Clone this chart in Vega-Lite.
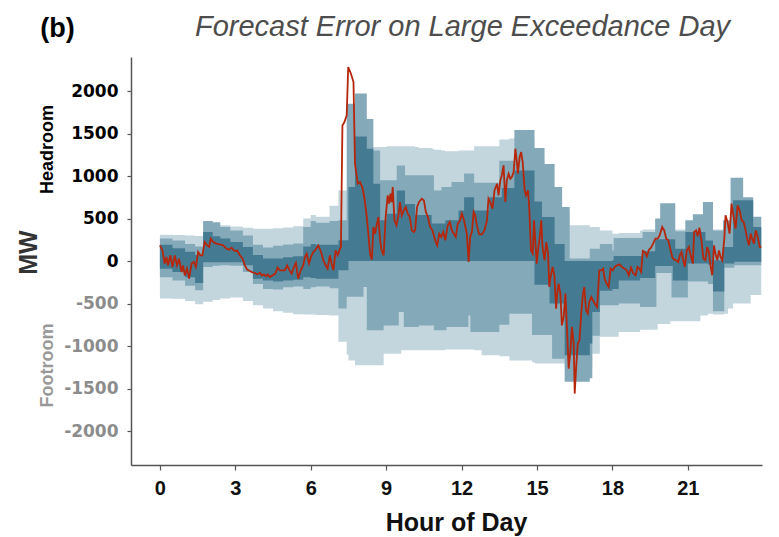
{
"$schema": "https://vega.github.io/schema/vega-lite/v6.json",
"width": 631, "height": 408,
"autosize": {"type": "none"},
"padding": {"left": 131, "top": 57, "right": 17, "bottom": 72},
"background": "white",
"config": {"view": {"stroke": null}, "axis": {"grid": false}},
"datasets": {
"bands": [
{"h":0,"u3":310,"u2":265,"u1":190,"l1":-90,"l2":-190,"l3":-440},
{"h":0.5,"u3":305,"u2":240,"u1":150,"l1":-130,"l2":-230,"l3":-445},
{"h":1.0,"u3":300,"u2":200,"u1":110,"l1":-190,"l2":-290,"l3":-470},
{"h":1.4,"u3":295,"u2":170,"u1":70,"l1":-260,"l2":-345,"l3":-510},
{"h":1.72,"u3":430,"u2":470,"u1":340,"l1":-15,"l2":-70,"l3":-480},
{"h":2.1,"u3":425,"u2":455,"u1":290,"l1":-15,"l2":-55,"l3":-460},
{"h":2.4,"u3":420,"u2":400,"u1":265,"l1":-15,"l2":-50,"l3":-440},
{"h":2.8,"u3":405,"u2":360,"u1":225,"l1":-15,"l2":-55,"l3":-430},
{"h":3.3,"u3":390,"u2":300,"u1":165,"l1":-50,"l2":-130,"l3":-470},
{"h":3.7,"u3":380,"u2":190,"u1":70,"l1":-210,"l2":-270,"l3":-520},
{"h":4.1,"u3":380,"u2":160,"u1":30,"l1":-230,"l2":-330,"l3":-560},
{"h":4.5,"u3":385,"u2":180,"u1":30,"l1":-240,"l2":-335,"l3":-590},
{"h":4.9,"u3":395,"u2":195,"u1":45,"l1":-230,"l2":-310,"l3":-610},
{"h":5.3,"u3":410,"u2":205,"u1":55,"l1":-220,"l2":-300,"l3":-625},
{"h":5.7,"u3":500,"u2":400,"u1":170,"l1":-190,"l2":-330,"l3":-630},
{"h":6.0,"u3":540,"u2":470,"u1":200,"l1":-200,"l2":-310,"l3":-630},
{"h":6.2,"u3":520,"u2":450,"u1":190,"l1":-210,"l2":-300,"l3":-635},
{"h":6.75,"u3":650,"u2":470,"u1":190,"l1":-210,"l2":-320,"l3":-640},
{"h":7.1,"u3":830,"u2":480,"u1":243,"l1":-110,"l2":-560,"l3":-950},
{"h":7.43,"u3":830,"u2":1850,"u1":243,"l1":-110,"l2":-420,"l3":-1100},
{"h":7.5,"u3":830,"u2":1850,"u1":870,"l1":0,"l2":-420,"l3":-1170},
{"h":7.76,"u3":900,"u2":1970,"u1":1466,"l1":0,"l2":-420,"l3":-1227},
{"h":8.1,"u3":900,"u2":1970,"u1":1466,"l1":0,"l2":-305,"l3":-1227},
{"h":8.23,"u3":1340,"u2":1670,"u1":1320,"l1":0,"l2":-815,"l3":-1227},
{"h":8.49,"u3":1340,"u2":1300,"u1":910,"l1":0,"l2":-815,"l3":-1227},
{"h":8.76,"u3":1340,"u2":950,"u1":478,"l1":0,"l2":-815,"l3":-1227},
{"h":8.9,"u3":1340,"u2":950,"u1":478,"l1":0,"l2":-760,"l3":-1090},
{"h":9.02,"u3":1350,"u2":950,"u1":557,"l1":0,"l2":-760,"l3":-1090},
{"h":9.42,"u3":1350,"u2":1125,"u1":830,"l1":0,"l2":-760,"l3":-1090},
{"h":9.5,"u3":1350,"u2":1125,"u1":830,"l1":0,"l2":-600,"l3":-1090},
{"h":9.6,"u3":1350,"u2":1125,"u1":830,"l1":0,"l2":-600,"l3":-1050},
{"h":9.7,"u3":1350,"u2":1125,"u1":830,"l1":0,"l2":-776,"l3":-1050},
{"h":9.75,"u3":1350,"u2":1010,"u1":670,"l1":0,"l2":-776,"l3":-1050},
{"h":10.15,"u3":1340,"u2":1010,"u1":540,"l1":0,"l2":-776,"l3":-1050},
{"h":10.3,"u3":1330,"u2":1010,"u1":540,"l1":0,"l2":-760,"l3":-1050},
{"h":10.81,"u3":1320,"u2":1010,"u1":440,"l1":0,"l2":-760,"l3":-1050},
{"h":10.9,"u3":1310,"u2":830,"u1":440,"l1":0,"l2":-815,"l3":-1050},
{"h":11.2,"u3":1300,"u2":870,"u1":440,"l1":0,"l2":-815,"l3":-1050},
{"h":11.35,"u3":1290,"u2":870,"u1":480,"l1":0,"l2":-815,"l3":-1040},
{"h":11.4,"u3":1290,"u2":870,"u1":480,"l1":0,"l2":-776,"l3":-1040},
{"h":11.6,"u3":1290,"u2":930,"u1":480,"l1":0,"l2":-776,"l3":-1040},
{"h":11.88,"u3":1300,"u2":930,"u1":595,"l1":0,"l2":-776,"l3":-1040},
{"h":12.1,"u3":1300,"u2":1030,"u1":750,"l1":0,"l2":-776,"l3":-1040},
{"h":12.27,"u3":1300,"u2":1030,"u1":750,"l1":0,"l2":-640,"l3":-1040},
{"h":12.35,"u3":1300,"u2":1030,"u1":750,"l1":0,"l2":-835,"l3":-1040},
{"h":12.5,"u3":1350,"u2":920,"u1":595,"l1":0,"l2":-835,"l3":-1050},
{"h":12.8,"u3":1350,"u2":920,"u1":595,"l1":0,"l2":-835,"l3":-1110},
{"h":13.1,"u3":1350,"u2":920,"u1":750,"l1":0,"l2":-835,"l3":-1110},
{"h":13.5,"u3":1430,"u2":1180,"u1":750,"l1":0,"l2":-750,"l3":-1120},
{"h":13.6,"u3":1430,"u2":1180,"u1":860,"l1":0,"l2":-750,"l3":-1120},
{"h":13.9,"u3":1440,"u2":1180,"u1":860,"l1":0,"l2":-620,"l3":-1170},
{"h":14.1,"u3":1460,"u2":1540,"u1":1066,"l1":0,"l2":-620,"l3":-1170},
{"h":14.8,"u3":1460,"u2":1540,"u1":1066,"l1":0,"l2":-870,"l3":-1190},
{"h":14.9,"u3":1180,"u2":1330,"u1":700,"l1":-280,"l2":-870,"l3":-1207},
{"h":15.2,"u3":1180,"u2":1330,"u1":517,"l1":-280,"l2":-870,"l3":-1207},
{"h":15.3,"u3":870,"u2":1140,"u1":517,"l1":-280,"l2":-870,"l3":-1207},
{"h":15.5,"u3":870,"u2":1140,"u1":517,"l1":-500,"l2":-870,"l3":-1207},
{"h":15.6,"u3":870,"u2":1140,"u1":517,"l1":-500,"l2":-1150,"l3":-1207},
{"h":15.7,"u3":550,"u2":870,"u1":200,"l1":-500,"l2":-1150,"l3":-1207},
{"h":16.0,"u3":550,"u2":635,"u1":200,"l1":-500,"l2":-1150,"l3":-1207},
{"h":16.1,"u3":550,"u2":635,"u1":0,"l1":-1110,"l2":-1420,"l3":-1250},
{"h":16.3,"u3":420,"u2":30,"u1":0,"l1":-1110,"l2":-1420,"l3":-1250},
{"h":17.1,"u3":400,"u2":145,"u1":0,"l1":-970,"l2":-1380,"l3":-1250},
{"h":17.2,"u3":400,"u2":145,"u1":0,"l1":-600,"l2":-880,"l3":-1090},
{"h":17.5,"u3":360,"u2":200,"u1":0,"l1":-350,"l2":-520,"l3":-890},
{"h":18.0,"u3":320,"u2":125,"u1":8,"l1":-330,"l2":-520,"l3":-890},
{"h":18.05,"u3":320,"u2":270,"u1":60,"l1":-330,"l2":-520,"l3":-890},
{"h":18.25,"u3":330,"u2":270,"u1":60,"l1":-230,"l2":-500,"l3":-835},
{"h":19.1,"u3":360,"u2":270,"u1":60,"l1":-200,"l2":-540,"l3":-810},
{"h":19.2,"u3":370,"u2":340,"u1":115,"l1":-200,"l2":-540,"l3":-810},
{"h":19.7,"u3":370,"u2":500,"u1":255,"l1":-60,"l2":-540,"l3":-810},
{"h":19.75,"u3":370,"u2":500,"u1":255,"l1":-60,"l2":-140,"l3":-810},
{"h":19.8,"u3":370,"u2":500,"u1":255,"l1":-60,"l2":-140,"l3":-740},
{"h":19.9,"u3":370,"u2":680,"u1":255,"l1":-60,"l2":-140,"l3":-740},
{"h":20.3,"u3":370,"u2":680,"u1":255,"l1":-60,"l2":-140,"l3":-710},
{"h":20.35,"u3":370,"u2":680,"u1":255,"l1":-60,"l2":-430,"l3":-710},
{"h":20.4,"u3":370,"u2":680,"u1":255,"l1":-230,"l2":-430,"l3":-710},
{"h":20.5,"u3":370,"u2":350,"u1":145,"l1":-230,"l2":-430,"l3":-710},
{"h":20.9,"u3":370,"u2":480,"u1":340,"l1":-230,"l2":-430,"l3":-710},
{"h":21.0,"u3":370,"u2":480,"u1":340,"l1":-30,"l2":-240,"l3":-710},
{"h":21.2,"u3":370,"u2":550,"u1":340,"l1":-30,"l2":-240,"l3":-710},
{"h":21.5,"u3":370,"u2":550,"u1":340,"l1":-30,"l2":-240,"l3":-640},
{"h":21.6,"u3":370,"u2":695,"u1":340,"l1":-30,"l2":-240,"l3":-640},
{"h":21.7,"u3":370,"u2":695,"u1":240,"l1":-30,"l2":-240,"l3":-640},
{"h":21.8,"u3":370,"u2":695,"u1":240,"l1":-40,"l2":-270,"l3":-620},
{"h":22.0,"u3":370,"u2":360,"u1":8,"l1":-360,"l2":-590,"l3":-630},
{"h":22.4,"u3":370,"u2":480,"u1":165,"l1":-360,"l2":-590,"l3":-630},
{"h":22.45,"u3":370,"u2":480,"u1":165,"l1":-30,"l2":-80,"l3":-620},
{"h":22.6,"u3":370,"u2":480,"u1":165,"l1":-30,"l2":-80,"l3":-560},
{"h":22.7,"u3":370,"u2":980,"u1":165,"l1":-30,"l2":-80,"l3":-560},
{"h":22.8,"u3":370,"u2":980,"u1":715,"l1":-30,"l2":-80,"l3":-500},
{"h":22.85,"u3":370,"u2":980,"u1":715,"l1":-10,"l2":-50,"l3":-500},
{"h":23.2,"u3":370,"u2":750,"u1":715,"l1":-10,"l2":-50,"l3":-500},
{"h":23.5,"u3":370,"u2":750,"u1":715,"l1":-10,"l2":-50,"l3":-400},
{"h":23.6,"u3":370,"u2":520,"u1":400,"l1":-10,"l2":-50,"l3":-400},
{"h":23.92,"u3":370,"u2":520,"u1":400,"l1":-10,"l2":-50,"l3":-400}
],
"err": [
{"h":0.00,"e":184},{"h":0.10,"e":125},{"h":0.19,"e":-31},{"h":0.26,"e":47},{"h":0.32,"e":-51},{"h":0.42,"e":67},{"h":0.50,"e":-71},{"h":0.59,"e":67},{"h":0.68,"e":-51},{"h":0.76,"e":27},{"h":0.86,"e":-129},{"h":0.92,"e":-51},{"h":0.99,"e":-169},{"h":1.08,"e":-90},{"h":1.16,"e":-208},{"h":1.26,"e":-31},{"h":1.35,"e":-12},{"h":1.43,"e":-71},{"h":1.52,"e":106},{"h":1.61,"e":67},{"h":1.69,"e":67},{"h":1.78,"e":223},{"h":1.88,"e":184},{"h":1.96,"e":165},{"h":2.02,"e":263},{"h":2.12,"e":223},{"h":2.25,"e":204},{"h":2.38,"e":196},{"h":2.52,"e":184},{"h":2.65,"e":145},{"h":2.75,"e":133},{"h":2.85,"e":157},{"h":2.94,"e":125},{"h":3.02,"e":118},{"h":3.07,"e":125},{"h":3.18,"e":67},{"h":3.29,"e":27},{"h":3.38,"e":-51},{"h":3.47,"e":-102},{"h":3.58,"e":-118},{"h":3.68,"e":-133},{"h":3.78,"e":-141},{"h":3.87,"e":-157},{"h":3.98,"e":-141},{"h":4.06,"e":-172},{"h":4.14,"e":-157},{"h":4.22,"e":-180},{"h":4.29,"e":-157},{"h":4.37,"e":-188},{"h":4.48,"e":-169},{"h":4.59,"e":-149},{"h":4.68,"e":-78},{"h":4.77,"e":-110},{"h":4.88,"e":-110},{"h":4.97,"e":-110},{"h":5.06,"e":-51},{"h":5.14,"e":-102},{"h":5.24,"e":-149},{"h":5.33,"e":-71},{"h":5.41,"e":-24},{"h":5.50,"e":-208},{"h":5.60,"e":-110},{"h":5.70,"e":-51},{"h":5.77,"e":47},{"h":5.84,"e":86},{"h":5.93,"e":-31},{"h":6.02,"e":55},{"h":6.10,"e":106},{"h":6.17,"e":125},{"h":6.30,"e":184},{"h":6.41,"e":106},{"h":6.50,"e":8},{"h":6.59,"e":-51},{"h":6.67,"e":-90},{"h":6.76,"e":67},{"h":6.83,"e":-31},{"h":6.90,"e":-110},{"h":6.99,"e":125},{"h":7.07,"e":67},{"h":7.14,"e":125},{"h":7.20,"e":165},{"h":7.26,"e":1595},{"h":7.34,"e":1635},{"h":7.43,"e":1713},{"h":7.49,"e":2281},{"h":7.60,"e":2203},{"h":7.70,"e":2105},{"h":7.76,"e":1145},{"h":7.87,"e":909},{"h":7.96,"e":929},{"h":8.05,"e":870},{"h":8.13,"e":753},{"h":8.23,"e":517},{"h":8.29,"e":321},{"h":8.36,"e":86},{"h":8.43,"e":16},{"h":8.49,"e":400},{"h":8.56,"e":321},{"h":8.62,"e":419},{"h":8.69,"e":517},{"h":8.76,"e":243},{"h":8.82,"e":125},{"h":8.90,"e":67},{"h":8.98,"e":517},{"h":9.06,"e":772},{"h":9.12,"e":674},{"h":9.17,"e":792},{"h":9.22,"e":694},{"h":9.26,"e":870},{"h":9.33,"e":478},{"h":9.41,"e":419},{"h":9.49,"e":537},{"h":9.55,"e":694},{"h":9.62,"e":537},{"h":9.70,"e":596},{"h":9.78,"e":635},{"h":9.86,"e":557},{"h":9.94,"e":517},{"h":10.02,"e":361},{"h":10.10,"e":341},{"h":10.15,"e":361},{"h":10.23,"e":635},{"h":10.31,"e":694},{"h":10.42,"e":733},{"h":10.50,"e":713},{"h":10.58,"e":576},{"h":10.66,"e":517},{"h":10.75,"e":400},{"h":10.84,"e":361},{"h":10.95,"e":243},{"h":11.03,"e":184},{"h":11.11,"e":321},{"h":11.19,"e":282},{"h":11.27,"e":341},{"h":11.35,"e":243},{"h":11.45,"e":419},{"h":11.53,"e":459},{"h":11.61,"e":361},{"h":11.69,"e":321},{"h":11.77,"e":282},{"h":11.85,"e":439},{"h":11.94,"e":478},{"h":12.01,"e":557},{"h":12.08,"e":498},{"h":12.14,"e":419},{"h":12.21,"e":321},{"h":12.28,"e":-12},{"h":12.34,"e":282},{"h":12.41,"e":341},{"h":12.48,"e":576},{"h":12.54,"e":537},{"h":12.61,"e":419},{"h":12.70,"e":314},{"h":12.81,"e":314},{"h":12.91,"e":361},{"h":13.01,"e":478},{"h":13.07,"e":733},{"h":13.14,"e":694},{"h":13.23,"e":615},{"h":13.31,"e":831},{"h":13.41,"e":909},{"h":13.47,"e":772},{"h":13.54,"e":949},{"h":13.60,"e":1007},{"h":13.67,"e":1125},{"h":13.74,"e":694},{"h":13.80,"e":949},{"h":13.87,"e":1027},{"h":13.94,"e":968},{"h":14.00,"e":988},{"h":14.07,"e":1047},{"h":14.14,"e":1321},{"h":14.20,"e":1164},{"h":14.24,"e":1027},{"h":14.31,"e":1223},{"h":14.37,"e":1282},{"h":14.43,"e":1164},{"h":14.51,"e":831},{"h":14.56,"e":772},{"h":14.64,"e":831},{"h":14.69,"e":635},{"h":14.76,"e":125},{"h":14.83,"e":86},{"h":14.88,"e":478},{"h":14.93,"e":243},{"h":14.99,"e":-31},{"h":15.04,"e":125},{"h":15.11,"e":282},{"h":15.17,"e":478},{"h":15.22,"e":165},{"h":15.30,"e":8},{"h":15.37,"e":223},{"h":15.44,"e":86},{"h":15.49,"e":-306},{"h":15.54,"e":-188},{"h":15.62,"e":-71},{"h":15.69,"e":-169},{"h":15.76,"e":-561},{"h":15.81,"e":-365},{"h":15.86,"e":-267},{"h":15.93,"e":-384},{"h":15.99,"e":-757},{"h":16.06,"e":-659},{"h":16.13,"e":-384},{"h":16.19,"e":-776},{"h":16.26,"e":-1266},{"h":16.33,"e":-1051},{"h":16.39,"e":-776},{"h":16.46,"e":-972},{"h":16.50,"e":-1560},{"h":16.55,"e":-1286},{"h":16.62,"e":-972},{"h":16.69,"e":-933},{"h":16.75,"e":-659},{"h":16.82,"e":-404},{"h":16.88,"e":-306},{"h":16.95,"e":-580},{"h":17.02,"e":-619},{"h":17.08,"e":-482},{"h":17.16,"e":-423},{"h":17.23,"e":-463},{"h":17.30,"e":-502},{"h":17.39,"e":-541},{"h":17.48,"e":-110},{"h":17.56,"e":-110},{"h":17.63,"e":-90},{"h":17.69,"e":-208},{"h":17.77,"e":-267},{"h":17.85,"e":-306},{"h":17.93,"e":-90},{"h":18.01,"e":-110},{"h":18.09,"e":-70},{"h":18.18,"e":-51},{"h":18.28,"e":-39},{"h":18.38,"e":-70},{"h":18.48,"e":-90},{"h":18.57,"e":-110},{"h":18.65,"e":-168},{"h":18.74,"e":-78},{"h":18.82,"e":-141},{"h":18.92,"e":-168},{"h":19.00,"e":-70},{"h":19.07,"e":-90},{"h":19.14,"e":-129},{"h":19.21,"e":118},{"h":19.29,"e":106},{"h":19.37,"e":55},{"h":19.45,"e":133},{"h":19.53,"e":153},{"h":19.62,"e":204},{"h":19.71,"e":263},{"h":19.80,"e":263},{"h":19.88,"e":302},{"h":19.98,"e":400},{"h":20.06,"e":361},{"h":20.14,"e":263},{"h":20.22,"e":243},{"h":20.30,"e":145},{"h":20.38,"e":47},{"h":20.46,"e":16},{"h":20.54,"e":8},{"h":20.62,"e":-12},{"h":20.68,"e":67},{"h":20.75,"e":106},{"h":20.80,"e":28},{"h":20.88,"e":-70},{"h":20.96,"e":125},{"h":21.04,"e":165},{"h":21.12,"e":55},{"h":21.20,"e":-31},{"h":21.25,"e":341},{"h":21.33,"e":361},{"h":21.39,"e":290},{"h":21.46,"e":392},{"h":21.54,"e":243},{"h":21.62,"e":28},{"h":21.70,"e":8},{"h":21.77,"e":165},{"h":21.84,"e":106},{"h":21.90,"e":-51},{"h":21.97,"e":-168},{"h":22.04,"e":184},{"h":22.10,"e":86},{"h":22.17,"e":8},{"h":22.24,"e":125},{"h":22.30,"e":47},{"h":22.37,"e":8},{"h":22.45,"e":263},{"h":22.50,"e":537},{"h":22.58,"e":459},{"h":22.66,"e":322},{"h":22.74,"e":675},{"h":22.82,"e":518},{"h":22.90,"e":381},{"h":22.98,"e":655},{"h":23.06,"e":596},{"h":23.14,"e":479},{"h":23.22,"e":459},{"h":23.30,"e":361},{"h":23.36,"e":263},{"h":23.43,"e":184},{"h":23.50,"e":322},{"h":23.56,"e":263},{"h":23.63,"e":204},{"h":23.70,"e":361},{"h":23.78,"e":282},{"h":23.86,"e":165},{"h":23.92,"e":165}
]
},
"layer": [
{
"data": {"name": "bands"},
"mark": {"type": "area", "interpolate": "step-after", "color": "#c3d6de", "opacity": 1},
"encoding": {
"x": {"field": "h", "type": "quantitative", "scale": {"domain": [-1.15, 23.95], "nice": false, "zero": false},
 "axis": {"orient": "bottom", "values": [0,3,6,9,12,15,18,21], "title": "Hour of Day", "titleFont": "Liberation Sans", "titleFontSize": 25, "titleFontWeight": "bold", "titleColor": "#111111", "titleX": 325, "titleY": 65, "titleAlign": "center", "titleBaseline": "alphabetic", "labelFont": "Liberation Sans", "labelFontSize": 20, "labelFontWeight": "bold", "labelColor": "#111111", "labelPadding": 8, "labelFlush": false, "labelOverlap": false, "tickSize": 5, "tickWidth": 1.2, "tickColor": "#555555", "domainColor": "#555555", "domainWidth": 1.5, "grid": false}},
"y": {"field": "l3", "type": "quantitative", "scale": {"domain": [-2400, 2400], "nice": false, "zero": false},
 "axis": {"orient": "left", "values": [-2000,-1500,-1000,-500,0,500,1000,1500,2000], "labelExpr": "datum.value + ''", "title": "MW", "titleFont": "Liberation Sans", "titleFontSize": 25, "titleFontWeight": "bold", "titleColor": "#333333", "titleX": -103, "titleY": 195, "titleAngle": 270, "titleAlign": "center", "titleBaseline": "middle", "labelFont": "DejaVu Sans", "labelFontSize": 17, "labelFontWeight": "bold", "labelColor": {"condition": {"test": "datum.value < 0", "value": "#8c8c8c"}, "value": "#000000"}, "labelPadding": 9, "labelOverlap": false, "tickSize": 4, "tickWidth": 1.2, "tickColor": "#555555", "domainColor": "#555555", "domainWidth": 1.5, "grid": false}},
"y2": {"field": "u3"}
}
},
{
"data": {"name": "bands"},
"mark": {"type": "area", "interpolate": "step-after", "color": "#84a9b9", "opacity": 1},
"encoding": {
"x": {"field": "h", "type": "quantitative", "scale": {"domain": [-1.15, 23.95], "nice": false, "zero": false},
 "axis": {"orient": "top", "labels": false, "ticks": false, "domain": false, "grid": false, "title": "(b)", "titleFont": "Liberation Sans", "titleFontSize": 27, "titleFontWeight": "bold", "titleColor": "#000000", "titleX": -74, "titleY": -21, "titleAlign": "center", "titleBaseline": "alphabetic"}},
"y": {"field": "l2", "type": "quantitative", "scale": {"domain": [-2400, 2400], "nice": false, "zero": false},
 "axis": {"orient": "left", "labels": false, "ticks": false, "domain": false, "grid": false, "title": "Headroom", "titleFont": "Liberation Sans", "titleFontSize": 18, "titleFontWeight": "bold", "titleColor": "#000000", "titleX": -84, "titleY": 92, "titleAngle": 270, "titleAlign": "center", "titleBaseline": "middle"}},
"y2": {"field": "u2"}
}
},
{
"data": {"name": "bands"},
"mark": {"type": "area", "interpolate": "step-after", "color": "#457b92", "opacity": 1},
"encoding": {
"x": {"field": "h", "type": "quantitative", "scale": {"domain": [-1.15, 23.95], "nice": false, "zero": false},
 "axis": {"orient": "top", "labels": false, "ticks": false, "domain": false, "grid": false, "title": "Forecast Error on Large Exceedance Day", "titleFont": "Liberation Sans", "titleFontSize": 29, "titleFontWeight": "normal", "titleFontStyle": "italic", "titleColor": "#4d4d4d", "titleX": 331, "titleY": -22, "titleAlign": "center", "titleBaseline": "alphabetic"}},
"y": {"field": "l1", "type": "quantitative", "scale": {"domain": [-2400, 2400], "nice": false, "zero": false},
 "axis": {"orient": "left", "labels": false, "ticks": false, "domain": false, "grid": false, "title": "Footroom", "titleFont": "Liberation Sans", "titleFontSize": 18, "titleFontWeight": "bold", "titleColor": "#999999", "titleX": -84, "titleY": 308, "titleAngle": 270, "titleAlign": "center", "titleBaseline": "middle"}},
"y2": {"field": "u1"}
}
},
{
"data": {"name": "err"},
"mark": {"type": "line", "color": "#b5260b", "strokeWidth": 1.8},
"encoding": {
"x": {"field": "h", "type": "quantitative", "scale": {"domain": [-1.15, 23.95], "nice": false, "zero": false}, "axis": null},
"y": {"field": "e", "type": "quantitative", "scale": {"domain": [-2400, 2400], "nice": false, "zero": false}, "axis": null}
}
}
],
"resolve": {"scale": {"x": "independent", "y": "independent"}, "axis": {"x": "independent", "y": "independent"}}
}
